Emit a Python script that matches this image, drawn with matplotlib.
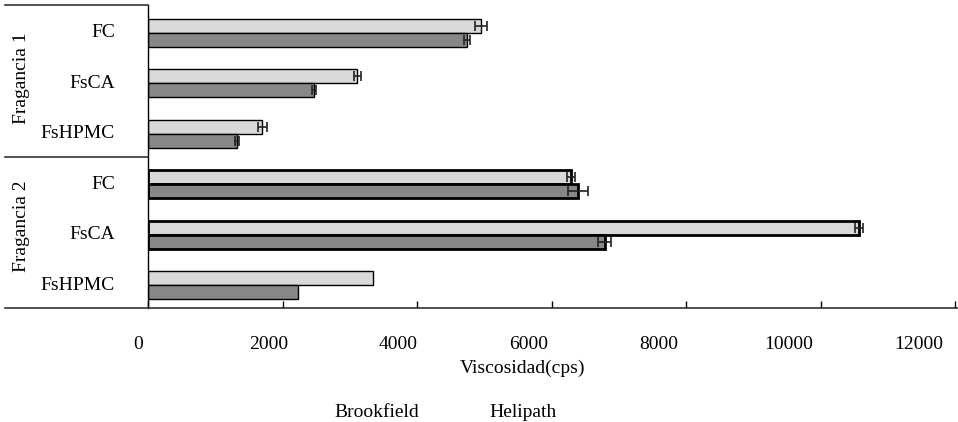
"""Viscosidad Brookfield vs. Helipath por formulacion y fragancia (barras horizontales)."""

import matplotlib
matplotlib.use("Agg")
import matplotlib.pyplot as plt
import matplotlib.transforms as mtransforms
from matplotlib.lines import Line2D
import numpy as np

plt.rcParams["font.family"] = ["Liberation Serif", "DejaVu Serif"]

GRUPOS = ["Fragancia 1", "Fragancia 2"]
FORMULAS = ["FC", "FsCA", "FsHPMC"]
SERIES = ["Brookfield", "Helipath"]
COLORES = ["#d9d9db", "#878787"]

# valores medios (cps) y desviaciones, orden: F1 FC, F1 FsCA, F1 FsHPMC, F2 FC, F2 FsCA, F2 FsHPMC
brookfield = [4950, 3110, 1700, 6290, 10570, 3350]
brookfield_err = [90, 50, 70, 60, 55, 0]
helipath = [4740, 2475, 1320, 6390, 6790, 2235]
helipath_err = [45, 30, 30, 150, 97, 0]
borde = [1.0, 1.0, 1.0, 2.0, 2.0, 1.0]

W, H = 958, 422
fig = plt.figure(figsize=(W / 100, H / 100), dpi=100)
x0, x1, y_top, y_bot = 148, 955, 5, 308
ax = fig.add_axes([x0 / W, 1 - y_bot / H, (x1 - x0) / W, (y_bot - y_top) / H])

n = len(brookfield)
y = np.arange(n) + 0.05
h = 0.277
for vals, errs, col, off in [(brookfield, brookfield_err, COLORES[0], -h / 2),
                             (helipath, helipath_err, COLORES[1], h / 2)]:
    ax.barh(y + off, vals, height=h, color=col, edgecolor="black", linewidth=borde)
    mask = np.array(errs) > 0
    ax.errorbar(np.array(vals)[mask], (y + off)[mask], xerr=np.array(errs)[mask],
                fmt="none", ecolor="#222222", elinewidth=1.2, capsize=3.5, capthick=1.2)

ax.set_xlim(0, 12000)
ax.set_ylim(n - 0.5, -0.5)
ax.set_xticks(range(0, 12001, 2000))
ax.set_yticks([])
ax.tick_params(axis="x", direction="in", length=5, width=1, pad=20, labelsize=14)
# las etiquetas van algo mas juntas que las marcas
for k, lab in enumerate(ax.get_xticklabels()):
    dx = (-9.7 - 4.5 * k) / 100
    lab.set_transform(lab.get_transform() + mtransforms.ScaledTranslation(dx, 0, fig.dpi_scale_trans))
for s in ("top", "right", "bottom"):
    ax.spines[s].set_visible(False)
ax.spines["left"].set_linewidth(1.0)


# marco de categorias a la izquierda y eje inferior largo
def linea(xa, xb, ya, yb, lw=1.2):
    fig.add_artist(Line2D([xa / W, xb / W], [1 - ya / H, 1 - yb / H],
                          color="#333333", lw=lw, transform=fig.transFigure))


linea(5, x0, y_top, y_top)
linea(5, x0, 157, 157)
linea(5, W, y_bot, y_bot)

for i in range(n):
    yy = 1 - (30.25 + 50.5 * i + 2.5) / H
    fig.text(115 / W, yy, FORMULAS[i % 3], ha="right", va="center", fontsize=14)
for g, yc in zip(GRUPOS, [78, 226]):
    fig.text(22 / W, 1 - yc / H, g, rotation=90, ha="center", va="center", fontsize=14)

fig.text(523 / W, 1 - 368 / H, "Viscosidad(cps)", ha="center", va="center", fontsize=14)
fig.text(377 / W, 1 - 404 / H, SERIES[0], ha="center", va="top", fontsize=14)
fig.text(523 / W, 1 - 404 / H, SERIES[1], ha="center", va="top", fontsize=14)

fig.savefig("out.png", dpi=100)
plt.close(fig)
